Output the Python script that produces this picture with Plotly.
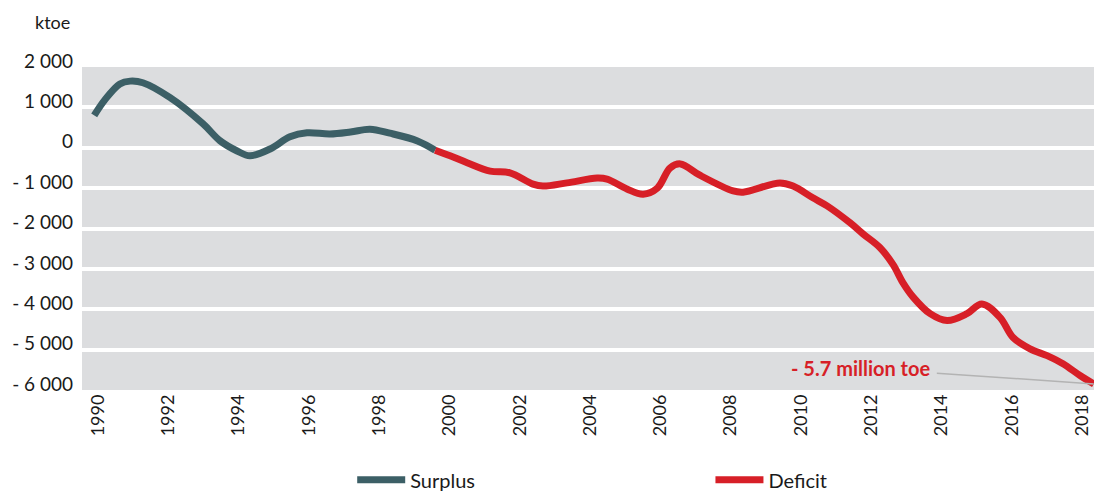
import plotly.graph_objects as go

# values (ktoe)
surplus_years = [1989.92, 1990.217, 1990.651, 1990.943, 1991.306, 1992.082, 1993.02, 1993.504,
                 1993.988, 1994.351, 1994.925, 1995.49, 1995.974, 1996.629, 1997.214, 1997.768,
                 1998.333, 1999.119, 1999.623]
surplus_vals = [800, 1180, 1580, 1650, 1610, 1240, 590, 170,
                -80, -200, -30, 270, 370, 340, 390, 460,
                360, 170, -60]

deficit_years = [1999.623, 2000.047, 2000.531, 2001.186, 2001.751, 2002.406, 2002.688, 2003.374,
                 2004.231, 2004.513, 2005.078, 2005.541, 2005.945, 2006.307, 2006.6, 2007.154,
                 2008.102, 2008.384, 2009.433, 2009.806, 2010.37, 2010.774, 2011.429, 2011.792,
                 2012.276, 2012.649, 2012.931, 2013.224, 2013.707, 2014.191, 2014.756, 2015.179,
                 2015.694, 2016.067, 2016.551, 2017.034, 2017.488, 2017.972, 2018.365]
deficit_vals = [-60, -200, -370, -580, -620, -900, -950, -870,
                -750, -775, -1020, -1150, -1000, -500, -400, -680,
                -1070, -1100, -870, -950, -1240, -1440, -1860, -2130,
                -2470, -2890, -3340, -3700, -4110, -4280, -4110, -3870,
                -4200, -4700, -4980, -5150, -5350, -5640, -5850]

year_ticks = list(range(1990, 2019, 2))
y_ticks = [2000, 1000, 0, -1000, -2000, -3000, -4000, -5000, -6000]
y_labels = ['2 000', '1 000', '0', '- 1 000', '- 2 000', '- 3 000', '- 4 000', '- 5 000', '- 6 000']

TEAL = '#3c5f66'
RED = '#d71f27'
FONT = 'Lato'

fig = go.Figure()
fig.add_trace(go.Scatter(x=surplus_years, y=surplus_vals, mode='lines', name='Surplus',
                         legend='legend',
                         line=dict(color=TEAL, width=7, shape='spline', smoothing=1.0)))
fig.add_trace(go.Scatter(x=deficit_years, y=deficit_vals, mode='lines', name='Deficit',
                         legend='legend2',
                         line=dict(color=RED, width=7, shape='spline', smoothing=1.0)))

fig.add_annotation(x=deficit_years[-1], y=deficit_vals[-1], xref='x', yref='y',
                   text='<b>- 5.7 million toe</b>', showarrow=True, arrowhead=0,
                   arrowwidth=1.5, arrowcolor='#b3b3b3', ax=-233, ay=-16,
                   borderpad=6, font=dict(family=FONT, size=20, color=RED))
fig.add_annotation(x=-0.0099, y=1.139, xref='paper', yref='paper', text='ktoe',
                   showarrow=False, xanchor='right', yanchor='middle',
                   font=dict(family=FONT, size=18, color='#1a1a1a'))

leg = dict(xanchor='left', yanchor='middle', y=-0.278, itemwidth=48,
           font=dict(family=FONT, size=20), bgcolor='rgba(0,0,0,0)')
fig.update_layout(
    width=1094, height=491,
    margin=dict(l=82, r=0, t=67, b=101, autoexpand=False),
    paper_bgcolor='white', plot_bgcolor='#dcdddf',
    font=dict(family=FONT, size=17, color='#1a1a1a'),
    showlegend=True,
    legend=dict(x=0.267, **leg),
    legend2=dict(x=0.621, **leg),
)
fig.update_xaxes(range=[1989.573, 2018.37], tickvals=year_ticks, tickangle=-90,
                 showgrid=False, zeroline=False, showline=False, ticks='',
                 automargin=False, ticklabeloverflow='allow',
                 tickfont=dict(family=FONT, size=18), ticklabelshift=1)
fig.update_yaxes(range=[-6000, 2000], tickvals=y_ticks, ticktext=y_labels,
                 showgrid=True, gridcolor='white', gridwidth=3.5, zeroline=False,
                 showline=False, ticks='', automargin=False,
                 tickfont=dict(family=FONT, size=19),
                 ticklabelshift=-6, ticklabelstandoff=8)

# drop the page's default 8px body margin so the figure fills the window
fig.write_html("out.html", config={'displayModeBar': False},
               post_script="document.body.style.margin='0';document.body.style.overflow='hidden';")
